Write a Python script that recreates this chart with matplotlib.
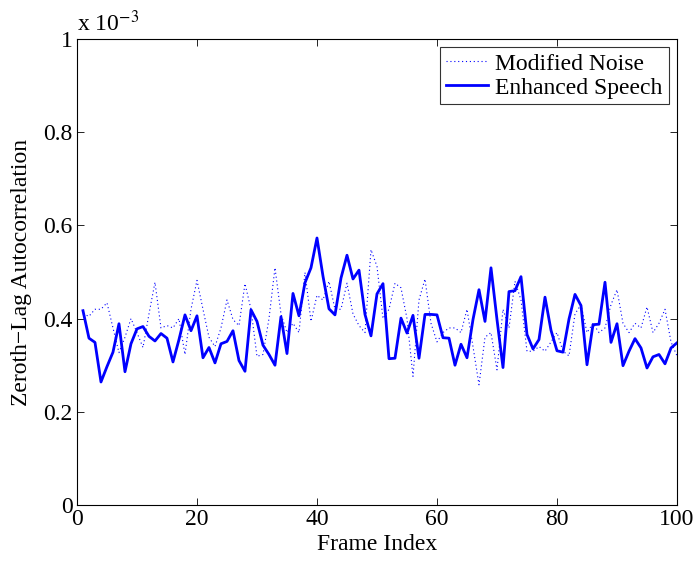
import numpy as np
import matplotlib
matplotlib.use('Agg')
import matplotlib.pyplot as plt

# values, in units of 1e-3
frames = np.arange(1, 101)
enhanced_speech = [
    0.417, 0.358, 0.349, 0.264, 0.297, 0.328, 0.389, 0.286, 0.346, 0.378,
    0.383, 0.362, 0.352, 0.368, 0.358, 0.307, 0.355, 0.408, 0.374, 0.406,
    0.316, 0.338, 0.305, 0.346, 0.351, 0.374, 0.310, 0.287, 0.419, 0.394,
    0.343, 0.323, 0.300, 0.404, 0.325, 0.454, 0.406, 0.477, 0.509, 0.573,
    0.491, 0.421, 0.408, 0.487, 0.536, 0.485, 0.504, 0.409, 0.363, 0.453,
    0.475, 0.314, 0.315, 0.401, 0.369, 0.407, 0.315, 0.409, 0.409, 0.408,
    0.359, 0.358, 0.300, 0.345, 0.316, 0.398, 0.462, 0.394, 0.509, 0.398,
    0.295, 0.458, 0.460, 0.490, 0.366, 0.335, 0.355, 0.446, 0.375, 0.331,
    0.328, 0.399, 0.452, 0.428, 0.301, 0.387, 0.388, 0.478, 0.349, 0.389,
    0.299, 0.330, 0.357, 0.337, 0.294, 0.318, 0.323, 0.303, 0.337, 0.348,
]
modified_noise = [
    0.410, 0.405, 0.420, 0.420, 0.434, 0.380, 0.327, 0.360, 0.400, 0.370,
    0.338, 0.410, 0.478, 0.380, 0.385, 0.380, 0.400, 0.323, 0.420, 0.482,
    0.420, 0.360, 0.340, 0.380, 0.440, 0.398, 0.385, 0.475, 0.420, 0.319,
    0.323, 0.400, 0.509, 0.410, 0.370, 0.390, 0.370, 0.499, 0.394, 0.450,
    0.440, 0.480, 0.420, 0.420, 0.476, 0.410, 0.385, 0.370, 0.548, 0.512,
    0.400, 0.420, 0.476, 0.466, 0.400, 0.276, 0.440, 0.485, 0.390, 0.350,
    0.370, 0.380, 0.380, 0.370, 0.420, 0.340, 0.258, 0.360, 0.370, 0.290,
    0.420, 0.380, 0.480, 0.440, 0.330, 0.330, 0.340, 0.330, 0.350, 0.370,
    0.330, 0.320, 0.410, 0.430, 0.370, 0.390, 0.370, 0.380, 0.430, 0.462,
    0.390, 0.370, 0.390, 0.380, 0.425, 0.370, 0.390, 0.420, 0.350, 0.320,
]

plt.rcParams['font.family'] = ['Liberation Serif', 'DejaVu Serif']
plt.rcParams['mathtext.fontset'] = 'stix'
fs = 17

fig = plt.figure(figsize=(6.96, 5.62), dpi=100)
ax = fig.add_axes([0.1106, 0.1014, 0.8621, 0.8292])

scale = 1e-3
ax.plot(frames, np.array(modified_noise) * scale, color='#0000ff', linestyle=(0, (1, 2.5)), linewidth=0.8,
        label='Modified Noise')
ax.plot(frames, np.array(enhanced_speech) * scale, color='#0000ff', linestyle='-', linewidth=2.0,
        label='Enhanced Speech')

ax.set_xlim(0, 100)
ax.set_ylim(0, 1e-3)
ax.set_xticks([0, 20, 40, 60, 80, 100])
yt = np.arange(0, 1.01, 0.2)
ax.set_yticks(yt * scale)
ax.set_yticklabels(['0'] + ['%.1f' % v for v in yt[1:-1]] + ['1'])
ax.tick_params(direction='in', top=True, right=True, labelsize=fs, length=5, width=0.6, pad=3)
for s in ax.spines.values():
    s.set_linewidth(0.8)

ax.text(0, 1.005, r'x 10$^{-3}$', transform=ax.transAxes, fontsize=fs, ha='left', va='bottom')

ax.set_xlabel('Frame Index', fontsize=fs, labelpad=3)
ax.set_ylabel('Zeroth\u2212Lag Autocorrelation', fontsize=fs, labelpad=8)

leg = ax.legend(loc='upper right', fontsize=fs, frameon=True, fancybox=False, borderaxespad=0.35,
                handlelength=1.8, handletextpad=0.3, borderpad=0.25, labelspacing=0.1)
leg.get_frame().set_edgecolor('black')
leg.get_frame().set_linewidth(0.8)

fig.savefig('out.png', dpi=100)
